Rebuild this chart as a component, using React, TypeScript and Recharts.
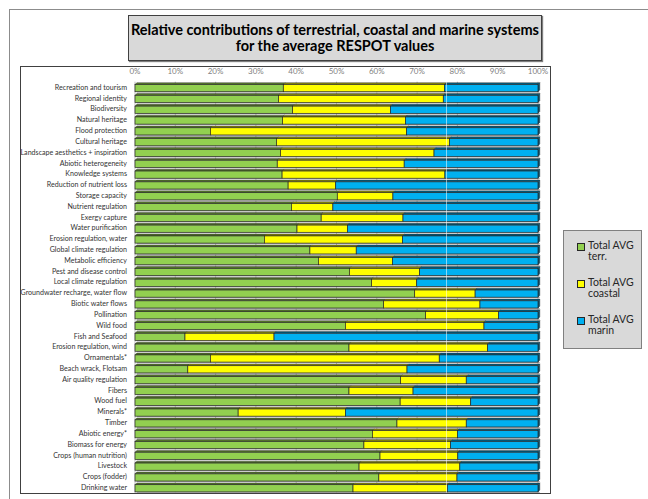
import { Bar, BarChart, CartesianGrid, ReferenceLine, XAxis, YAxis } from "recharts";

const categories = [
  "Recreation and tourism", "Regional identity", "Biodiversity", "Natural heritage",
  "Flood protection", "Cultural heritage", "Landscape aesthetics + inspiration",
  "Abiotic heterogeneity", "Knowledge systems", "Reduction of nutrient loss",
  "Storage capacity", "Nutrient regulation", "Exergy capture", "Water purification",
  "Erosion regulation, water", "Global climate regulation", "Metabolic efficiency",
  "Pest and disease control", "Local climate regulation", "Groundwater recharge, water flow",
  "Biotic water flows", "Pollination", "Wild food", "Fish and Seafood",
  "Erosion regulation, wind", "Ornamentals*", "Beach wrack, Flotsam", "Air quality regulation",
  "Fibers", "Wood fuel", "Minerals*", "Timber", "Abiotic energy*", "Biomass for energy",
  "Crops (human nutrition)", "Livestock", "Crops (fodder)", "Drinking water",
];

const terr = [
  36.8, 35.6, 39.1, 36.6, 18.7, 35.1, 36.1, 35.3, 36.5, 38.0, 50.2, 38.8, 46.2,
  40.2, 32.1, 43.4, 45.5, 53.2, 58.7, 69.4, 61.7, 72.1, 52.2, 12.4, 53.1, 18.7,
  13.1, 65.9, 53.1, 65.8, 25.6, 65.0, 58.9, 56.8, 60.8, 55.6, 60.5, 54.1,
];
const coastal = [
  40.0, 40.9, 24.3, 30.5, 48.7, 42.9, 38.1, 31.5, 40.4, 11.8, 13.8, 10.3, 20.3,
  12.5, 34.3, 11.5, 18.4, 17.4, 11.2, 15.0, 23.9, 18.1, 34.4, 22.1, 34.4, 56.8,
  54.4, 16.3, 15.9, 17.5, 26.6, 17.2, 21.1, 21.5, 19.3, 25.0, 19.4, 23.4,
];
const marin = [
  23.2, 23.5, 36.6, 32.9, 32.6, 22.0, 25.8, 33.2, 23.1, 50.2, 36.0, 50.9, 33.5,
  47.3, 33.6, 45.1, 36.1, 29.4, 30.1, 15.6, 14.4, 9.8, 13.4, 65.5, 12.5, 24.5,
  32.5, 17.8, 31.0, 16.7, 47.8, 17.8, 20.0, 21.7, 19.9, 19.4, 20.1, 22.5,
];
const pctTicks = [0, 10, 20, 30, 40, 50, 60, 70, 80, 90, 100];

const series = [
  { key: "terr", label: ["Total AVG", "terr."], face: "#92d050", top: "#56772c" },
  { key: "coastal", label: ["Total AVG", "coastal"], face: "#ffff00", top: "#86860a" },
  { key: "marin", label: ["Total AVG", "marin"], face: "#00b0f0", top: "#005c7e" },
];

const rows = categories.map((name, i) => ({
  name, terr: terr[i], coastal: coastal[i], marin: marin[i],
}));

const font = "Lato, 'Open Sans', sans-serif";

function shape3d(face: string, top: string, last: boolean) {
  return (p: any) => {
    const { x, y, width: w, height: h } = p;
    if (!w || w <= 0) return <g />;
    const d = 1.8;
    return (
      <g>
        <rect x={x + d} y={y + h} width={w} height={0.9} fill="#a6a6a6" />
        <polygon
          points={`${x},${y + d} ${x + d},${y} ${x + w + d},${y} ${x + w},${y + d}`}
          fill={top}
          stroke="#262626"
          strokeWidth={0.4}
        />
        {last && (
          <polygon
            points={`${x + w},${y + d} ${x + w + d},${y} ${x + w + d},${y + h - d} ${x + w},${y + h}`}
            fill={top}
            stroke="#262626"
            strokeWidth={0.4}
          />
        )}
        <rect x={x} y={y + d} width={w} height={h - d} fill={face} stroke="#262626" strokeWidth={0.7} />
      </g>
    );
  };
}

function CategoryTick({ x, y, payload }: any) {
  return (
    <text x={x} y={y} dy={2.7} textAnchor="end" fontSize={7.1} fill="#333333" fontFamily={font}>
      {payload.value}
    </text>
  );
}

export default function App() {
  return (
    <div style={{ position: "fixed", left: 0, top: 0, width: 648, height: 499, overflow: "hidden", background: "#fff" }}>
      <div style={{ position: "absolute", left: 9, top: 9, width: 700, height: 600, border: "1.5px solid #8c8c8c" }} />

      <div
        style={{
          position: "absolute", left: 128, top: 15, width: 412, height: 44,
          background: "#d9d9d9", border: "1px solid #404040", boxShadow: "1px 1px 1px #7f7f7f",
          display: "flex", flexDirection: "column", alignItems: "center", justifyContent: "center",
          fontFamily: font, fontWeight: 700, fontSize: 14.5, lineHeight: "16px", color: "#000",
          whiteSpace: "nowrap",
        }}
      >
        <div>Relative contributions of terrestrial, coastal and marine systems</div>
        <div>for the average RESPOT values</div>
      </div>

      <div style={{ position: "absolute", left: 20, top: 66, width: 529, height: 426, border: "1px solid #404040" }} />

      <div style={{ position: "absolute", left: 20.5, top: 66 }}>
        <BarChart
          width={529.5}
          height={427}
          data={rows}
          layout="vertical"
          barCategoryGap={1}
          margin={{ top: 0, right: 12.5, bottom: 0.3, left: 0 }}
          style={{ overflow: "visible" }}
        >
          <CartesianGrid horizontal={false} stroke="#bfbfbf" strokeWidth={1} />
          <XAxis
            type="number"
            orientation="top"
            domain={[0, 100]}
            ticks={pctTicks}
            tickFormatter={(v) => `${v}%`}
            height={15.7}
            axisLine={false}
            tickLine={false}
            tickSize={0}
            tickMargin={8}
            tick={{ fontSize: 8, fill: "#7f7f7f", fontFamily: font }}
          />
          <YAxis
            type="category"
            dataKey="name"
            width={114}
            axisLine={false}
            tickLine={false}
            tickSize={0}
            tickMargin={8}
            interval={0}
            tick={<CategoryTick />}
          />
          {series.map((s, i) => (
            <Bar
              key={s.key}
              dataKey={s.key}
              stackId="a"
              fill={s.face}
              isAnimationActive={false}
              shape={shape3d(s.face, s.top, i === series.length - 1)}
            />
          ))}
          <ReferenceLine x={77.3} stroke="#ffffff" strokeOpacity={0.55} strokeWidth={1} />
        </BarChart>
      </div>

      <div
        style={{
          position: "absolute", left: 563, top: 230, width: 77, height: 117,
          background: "#d9d9d9", border: "1px solid #808080", fontFamily: font,
          fontSize: 10.5, lineHeight: "11px", color: "#262626",
        }}
      >
        {series.map((s, i) => (
          <div key={s.key} style={{ position: "absolute", left: 13, top: 9 + i * 37, display: "flex" }}>
            <div style={{ width: 6, height: 6, marginTop: 2.5, marginRight: 3, background: s.face, border: "1px solid #262626" }} />
            <div>
              <div>{s.label[0]}</div>
              <div>{s.label[1]}</div>
            </div>
          </div>
        ))}
      </div>
    </div>
  );
}
